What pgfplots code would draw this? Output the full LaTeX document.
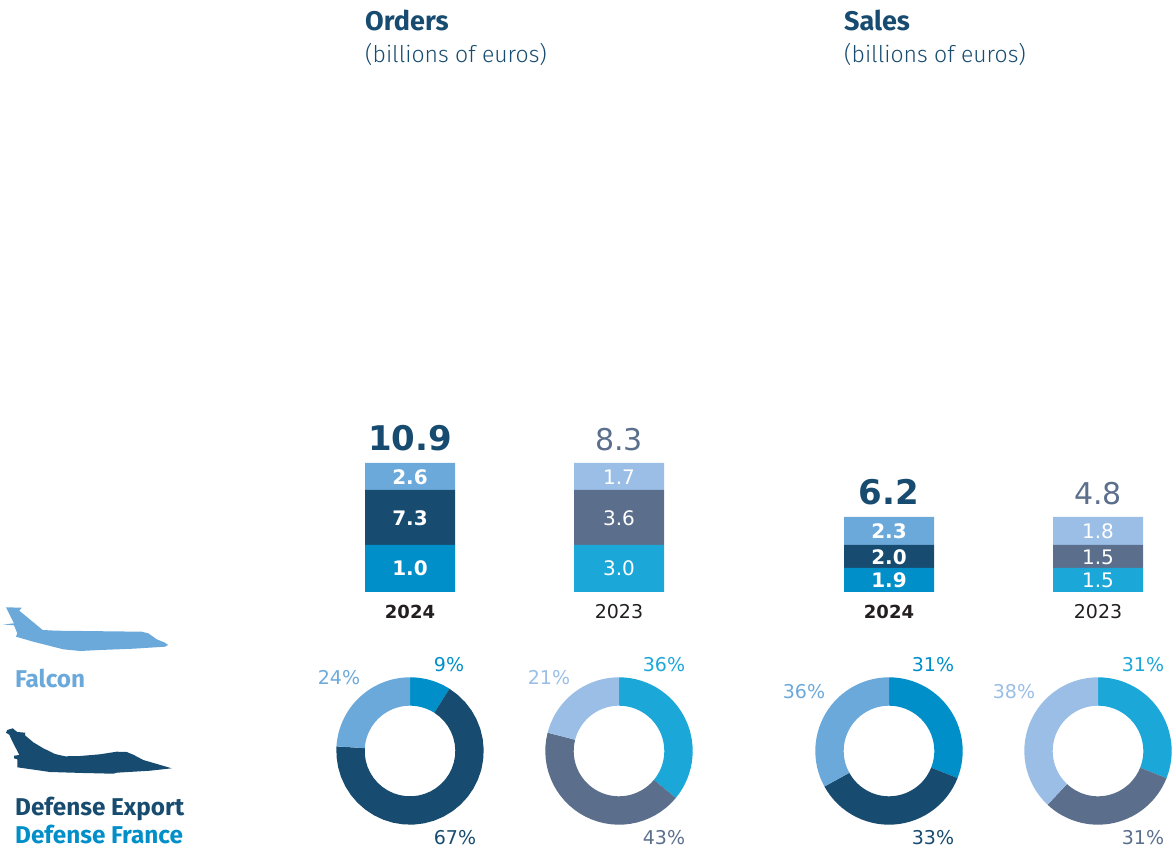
\documentclass[border=0pt]{standalone}
\usepackage{fontspec}
\usepackage{pgfplots}
\pgfplotsset{compat=1.18}
\setmainfont{Fira Sans}
\newfontfamily\titlef{Fira Sans}
\newfontfamily\lightf{Fira Sans Light}
\newfontfamily\numf{DejaVu Sans}
\definecolor{falcon}{HTML}{6CA9DB}
\definecolor{export}{HTML}{174B6F}
\definecolor{france}{HTML}{008FC8}
\definecolor{falconB}{HTML}{9ABEE6}
\definecolor{exportB}{HTML}{5B6F8D}
\definecolor{franceB}{HTML}{1CA7D9}
\definecolor{yeartxt}{HTML}{231F20}
\newcommand{\fs}[1]{\fontsize{#1}{#1}\selectfont}
\newcommand{\T}[5]{\node[anchor=base,text=#4,inner sep=0pt] at (axis cs:#1,#2) {#3#5};}
\newcommand{\donutseg}[5]{%
  \gdef\pts{}%
  \pgfmathsetmacro\sa{3.6*#2}%
  \pgfmathsetmacro\ea{3.6*#3}%
  \foreach \i in {0,...,30}{%
    \pgfmathsetmacro\aa{\sa+(\ea-\sa)*\i/30}%
    \pgfmathsetmacro\px{#1+73.7*sin(\aa)}%
    \pgfmathsetmacro\py{751-73.7*cos(\aa)}%
    \xdef\pts{\pts (\px,\py)}%
  }%
  \foreach \i in {30,29,...,0}{%
    \pgfmathsetmacro\aa{\sa+(\ea-\sa)*\i/30}%
    \pgfmathsetmacro\px{#1+45.3*sin(\aa)}%
    \pgfmathsetmacro\py{751-45.3*cos(\aa)}%
    \xdef\pts{\pts (\px,\py)}%
  }%
  \edef\temp{\noexpand\addplot[fill=#4,draw=none,forget plot] coordinates {\pts} -- cycle;}\temp
}
% \donut{cx}{share1}{share2}{share3}{col1}{col2}{col3}
\newcommand{\donut}[7]{%
  \pgfmathsetmacro\bA{#2}\pgfmathsetmacro\bB{#2+#3}%
  \donutseg{#1}{0}{\bA}{#5}{}%
  \donutseg{#1}{\bA}{\bB}{#6}{}%
  \donutseg{#1}{\bB}{100}{#7}{}%
}
\begin{document}
\begin{tikzpicture}
\path[use as bounding box] (0,0) rectangle (1176pt,848pt);
% stacked bars: heights as drawn in the reference (pixels)
\begin{axis}[at={(0,256pt)},anchor=south west,scale only axis,width=1176pt,height=592pt,
  xmin=0,xmax=1176,ymin=0,ymax=592,axis lines=none,ybar stacked,bar width=90pt,clip=false]
\addplot[fill=france,draw=none] coordinates {(410,47)(619,0)(889,24)(1098,0)};
\addplot[fill=export,draw=none] coordinates {(410,55)(619,0)(889,23)(1098,0)};
\addplot[fill=falcon,draw=none] coordinates {(410,27)(619,0)(889,28)(1098,0)};
\addplot[fill=franceB,draw=none] coordinates {(410,0)(619,47)(889,0)(1098,24)};
\addplot[fill=exportB,draw=none] coordinates {(410,0)(619,55)(889,0)(1098,23)};
\addplot[fill=falconB,draw=none] coordinates {(410,0)(619,27)(889,0)(1098,28)};
\end{axis}
% main canvas in image pixels
\begin{axis}[at={(0,0)},anchor=south west,scale only axis,width=1176pt,height=848pt,
  xmin=0,xmax=1176,ymin=0,ymax=848,y dir=reverse,axis lines=none,clip=false]
\addplot[fill=falcon,draw=none,forget plot] coordinates {(6,607.3)(21.7,607.7)(19.3,610.7)(42.7,630)(56.7,630.7)(141.7,631.7)(148.3,633.3)(156.7,639.3)(165,642.7)(168,645)(165,646.7)(133.3,648.7)(100,650)(80,651)(63.3,649.3)(33.3,641.7)(16,636.7)(17.3,633.3)(14,625.3)(3.3,624.5)(14,623.3)} -- cycle;
\addplot[fill=export,draw=none,forget plot] coordinates {(6,732.7)(7.3,730)(12.7,728.3)(17.3,732)(25.3,732.7)(25,735.3)(33.3,742.3)(43.3,748.3)(55,754)(65,756.3)(80,756)(100,754.3)(116.7,751.7)(126.7,752)(133.3,754.7)(143.3,760)(171.7,768.3)(150,770.7)(116.7,772.7)(113.3,773.7)(83.3,773)(50,772)(17.3,767.3)(17.3,759.3)(14,758.3)(14,755.7)(19.3,755)(11.7,740)(9.3,734.7)} -- cycle;
\donut{410}{9}{67}{24}{france}{export}{falcon}
\donut{619}{36}{43}{21}{franceB}{exportB}{falconB}
\donut{889}{31}{36}{33}{france}{export}{falcon}
\donut{1098}{31}{31}{38}{franceB}{exportB}{falconB}
% titles
\node[anchor=base west,inner sep=0pt,text=export] at (axis cs:365,31) {\titlef\fs{27}\bfseries Orders};
\node[anchor=base west,inner sep=0pt,text=export] at (axis cs:365,63) {\lightf\fs{23}(billions of euros)};
\node[anchor=base west,inner sep=0pt,text=export] at (axis cs:844,31) {\titlef\fs{27}\bfseries Sales};
\node[anchor=base west,inner sep=0pt,text=export] at (axis cs:844,63) {\lightf\fs{23}(billions of euros)};
% legend
\node[anchor=base west,inner sep=0pt,text=falcon] at (axis cs:15,687) {\titlef\fs{24.3}\bfseries Falcon};
\node[anchor=base west,inner sep=0pt,text=export] at (axis cs:15,815) {\titlef\fs{24.3}\bfseries Defense Export};
\node[anchor=base west,inner sep=0pt,text=france] at (axis cs:15,843) {\titlef\fs{24.3}\bfseries Defense France};
% totals
\T{410}{450}{\numf\fs{34}\bfseries}{export}{10.9}
\T{619}{450}{\numf\fs{30}}{exportB}{8.3}
\T{889}{504}{\numf\fs{34}\bfseries}{export}{6.2}
\T{1098}{504}{\numf\fs{30}}{exportB}{4.8}
% in-bar values
\T{410}{484}{\numf\fs{20}\bfseries}{white}{2.6}
\T{410}{525}{\numf\fs{20}\bfseries}{white}{7.3}
\T{410}{575}{\numf\fs{20}\bfseries}{white}{1.0}
\T{619}{484}{\numf\fs{20}}{white}{1.7}
\T{619}{525}{\numf\fs{20}}{white}{3.6}
\T{619}{575}{\numf\fs{20}}{white}{3.0}
\T{889}{538}{\numf\fs{20}\bfseries}{white}{2.3}
\T{889}{564}{\numf\fs{20}\bfseries}{white}{2.0}
\T{889}{587}{\numf\fs{20}\bfseries}{white}{1.9}
\T{1098}{538}{\numf\fs{20}}{white}{1.8}
\T{1098}{564}{\numf\fs{20}}{white}{1.5}
\T{1098}{587}{\numf\fs{20}}{white}{1.5}
% years
\T{410}{618}{\numf\fs{18}\bfseries}{yeartxt}{2024}
\T{619}{618}{\numf\fs{19}}{yeartxt}{2023}
\T{889}{618}{\numf\fs{18}\bfseries}{yeartxt}{2024}
\T{1098}{618}{\numf\fs{19}}{yeartxt}{2023}
% shares
\T{449}{671}{\numf\fs{19}}{france}{9\%}
\T{339}{684}{\numf\fs{19}}{falcon}{24\%}
\T{455}{844}{\numf\fs{19}}{export}{67\%}
\T{664}{671}{\numf\fs{19}}{franceB}{36\%}
\T{549}{684}{\numf\fs{19}}{falconB}{21\%}
\T{664}{844}{\numf\fs{19}}{exportB}{43\%}
\T{933}{671}{\numf\fs{19}}{france}{31\%}
\T{804}{698}{\numf\fs{19}}{falcon}{36\%}
\T{933}{844}{\numf\fs{19}}{export}{33\%}
\T{1143}{671}{\numf\fs{19}}{franceB}{31\%}
\T{1014}{698}{\numf\fs{19}}{falconB}{38\%}
\T{1143}{844}{\numf\fs{19}}{exportB}{31\%}
\end{axis}
\end{tikzpicture}
\end{document}
